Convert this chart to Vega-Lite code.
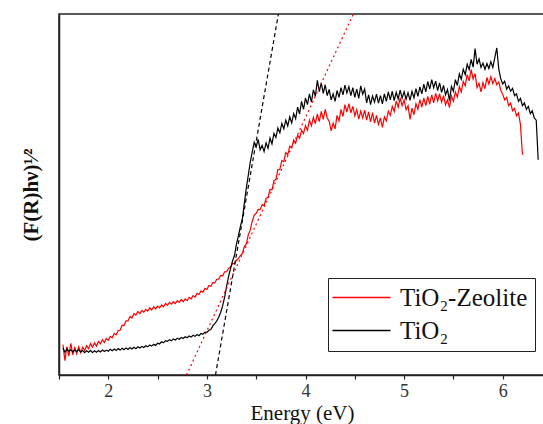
{
  "$schema": "https://vega.github.io/schema/vega-lite/v6.json",
  "width": 486,
  "height": 361,
  "autosize": {"type": "none"},
  "padding": {"left": 59, "top": 14, "right": 0, "bottom": 49},
  "background": "white",
  "config": {
    "view": {"stroke": "#222", "strokeWidth": 1.5},
    "font": "Liberation Serif, Times New Roman, serif"
  },
  "encoding": {
    "x": {
      "field": "e", "type": "quantitative",
      "scale": {"domain": [1.5, 6.429], "nice": false, "zero": false},
      "axis": {
        "title": "Energy (eV)",
        "values": [1.5, 2, 2.5, 3, 3.5, 4, 4.5, 5, 5.5, 6],
        "labelExpr": "datum.value % 1 === 0 ? format(datum.value, 'd') : ''",
        "grid": false, "domainColor": "#222", "domainWidth": 1.5,
        "tickColor": "#222", "tickSize": 4, "tickWidth": 1.2,
        "labelFont": "Liberation Serif, Times New Roman, serif", "labelFontSize": 18, "labelColor": "#333", "labelPadding": 3,
        "titleFont": "Liberation Serif, Times New Roman, serif", "titleFontSize": 21, "titleFontWeight": "normal", "titleColor": "#111", "titlePadding": 2
      }
    },
    "y": {
      "field": "y", "type": "quantitative",
      "scale": {"domain": [0, 100], "nice": false, "zero": false},
      "axis": {
        "title": "(F(R)hν)¹⁄²",
        "labels": false, "ticks": false, "grid": false,
        "domainColor": "#222", "domainWidth": 1.5,
        "titleFont": "Liberation Serif, Times New Roman, serif", "titleFontSize": 21, "titleFontWeight": "bold", "titleColor": "#111", "titlePadding": 18
      }
    }
  },
  "layer": [
    {
      "data": {"values": [
        {"e":1.54,"k":7.5,"r":8.4},{"e":1.56,"k":6.3,"r":4.0},{"e":1.58,"k":7.2,"r":7.9},{"e":1.60,"k":6.6,"r":5.2},
        {"e":1.62,"k":7.0,"r":8.8},{"e":1.64,"k":6.4,"r":5.6},{"e":1.66,"k":6.9,"r":7.6},{"e":1.68,"k":6.5,"r":5.9},
        {"e":1.70,"k":7.0,"r":7.8},{"e":1.72,"k":6.4,"r":6.2},{"e":1.74,"k":6.8,"r":7.7},{"e":1.76,"k":6.2,"r":6.8},
        {"e":1.78,"k":6.7,"r":8.1},{"e":1.80,"k":6.3,"r":7.3},{"e":1.82,"k":6.8,"r":8.7},{"e":1.84,"k":6.2,"r":7.7},
        {"e":1.86,"k":6.7,"r":8.9},{"e":1.88,"k":6.3,"r":8.0},{"e":1.90,"k":6.8,"r":9.3},{"e":1.92,"k":6.4,"r":8.6},
        {"e":1.94,"k":6.9,"r":9.8},{"e":1.96,"k":6.5,"r":9.0},{"e":1.98,"k":6.9,"r":10.1},{"e":2.00,"k":6.6,"r":9.6},
        {"e":2.02,"k":7.1,"r":10.7},{"e":2.04,"k":6.7,"r":10.3},{"e":2.06,"k":7.2,"r":11.5},{"e":2.08,"k":6.8,"r":11.1},
        {"e":2.10,"k":7.3,"r":12.3},{"e":2.12,"k":6.9,"r":12.4},{"e":2.14,"k":7.4,"r":13.8},{"e":2.16,"k":7.0,"r":13.7},
        {"e":2.18,"k":7.5,"r":15.0},{"e":2.20,"k":7.1,"r":15.0},{"e":2.22,"k":7.6,"r":16.2},{"e":2.24,"k":7.2,"r":15.8},
        {"e":2.26,"k":7.7,"r":17.0},{"e":2.28,"k":7.3,"r":16.6},{"e":2.30,"k":7.8,"r":17.6},{"e":2.32,"k":7.5,"r":17.0},
        {"e":2.34,"k":7.9,"r":17.9},{"e":2.36,"k":7.6,"r":17.4},{"e":2.38,"k":8.1,"r":18.2},{"e":2.40,"k":7.8,"r":17.7},
        {"e":2.42,"k":8.3,"r":18.6},{"e":2.44,"k":8.0,"r":18.0},{"e":2.46,"k":8.5,"r":18.9},{"e":2.48,"k":8.2,"r":18.3},
        {"e":2.50,"k":8.8,"r":19.1},{"e":2.52,"k":8.6,"r":18.6},{"e":2.54,"k":9.2,"r":19.4},{"e":2.56,"k":8.9,"r":18.9},
        {"e":2.58,"k":9.5,"r":19.8},{"e":2.60,"k":9.3,"r":19.3},{"e":2.62,"k":9.8,"r":20.1},{"e":2.64,"k":9.5,"r":19.6},
        {"e":2.66,"k":10.0,"r":20.3},{"e":2.68,"k":9.7,"r":19.8},{"e":2.70,"k":10.2,"r":20.6},{"e":2.72,"k":9.9,"r":20.1},
        {"e":2.74,"k":10.4,"r":20.9},{"e":2.76,"k":10.1,"r":20.3},{"e":2.78,"k":10.6,"r":21.1},{"e":2.80,"k":10.3,"r":20.6},
        {"e":2.82,"k":10.8,"r":21.5},{"e":2.84,"k":10.5,"r":21.1},{"e":2.86,"k":11.0,"r":22.0},{"e":2.88,"k":10.7,"r":21.6},
        {"e":2.90,"k":11.2,"r":22.6},{"e":2.92,"k":10.9,"r":22.3},{"e":2.94,"k":11.5,"r":23.3},{"e":2.96,"k":11.3,"r":22.9},
        {"e":2.98,"k":11.9,"r":24.0},{"e":3.00,"k":11.8,"r":23.7},{"e":3.02,"k":12.4,"r":24.8},{"e":3.04,"k":12.6,"r":24.6},
        {"e":3.06,"k":13.6,"r":25.6},{"e":3.08,"k":14.2,"r":25.5},{"e":3.10,"k":15.0,"r":26.5},{"e":3.12,"k":16.0,"r":26.6},
        {"e":3.14,"k":17.4,"r":27.6},{"e":3.16,"k":19.2,"r":27.5},{"e":3.18,"k":21.6,"r":28.6},{"e":3.20,"k":24.6,"r":28.6},
        {"e":3.22,"k":27.3,"r":29.6},{"e":3.24,"k":29.5,"r":29.9},{"e":3.26,"k":31.6,"r":30.9},{"e":3.28,"k":33.1,"r":30.8},
        {"e":3.30,"k":36.3,"r":31.8},{"e":3.32,"k":38.6,"r":32.3},{"e":3.34,"k":41.2,"r":33.1},{"e":3.36,"k":43.3,"r":33.7},
        {"e":3.38,"k":47.6,"r":35.6},{"e":3.40,"k":51.8,"r":36.3},{"e":3.42,"k":55.4,"r":38.9},{"e":3.44,"k":59.0,"r":40.2},
        {"e":3.46,"k":61.8,"r":42.6},{"e":3.48,"k":64.5,"r":44.3},{"e":3.50,"k":63.2,"r":44.8},{"e":3.52,"k":65.3,"r":45.9},
        {"e":3.54,"k":62.4,"r":45.8},{"e":3.56,"k":63.6,"r":47.2},{"e":3.58,"k":61.9,"r":46.9},{"e":3.60,"k":64.3,"r":48.9},
        {"e":3.62,"k":62.8,"r":49.2},{"e":3.64,"k":65.6,"r":51.4},{"e":3.66,"k":64.0,"r":51.3},{"e":3.68,"k":66.9,"r":53.8},
        {"e":3.70,"k":65.8,"r":54.2},{"e":3.72,"k":68.4,"r":56.9},{"e":3.74,"k":67.1,"r":57.0},{"e":3.76,"k":69.7,"r":59.4},
        {"e":3.78,"k":68.2,"r":59.1},{"e":3.80,"k":70.6,"r":61.6},{"e":3.82,"k":69.0,"r":61.0},{"e":3.84,"k":71.5,"r":63.4},
        {"e":3.86,"k":69.8,"r":62.9},{"e":3.88,"k":72.4,"r":65.1},{"e":3.90,"k":71.0,"r":64.2},{"e":3.92,"k":74.2,"r":66.4},
        {"e":3.94,"k":72.3,"r":65.6},{"e":3.96,"k":75.8,"r":67.8},{"e":3.98,"k":73.6,"r":66.9},{"e":4.00,"k":76.7,"r":69.1},
        {"e":4.02,"k":74.9,"r":67.8},{"e":4.04,"k":77.9,"r":70.6},{"e":4.06,"k":75.6,"r":69.0},{"e":4.08,"k":79.0,"r":71.4},
        {"e":4.10,"k":77.2,"r":69.6},{"e":4.12,"k":81.6,"r":72.3},{"e":4.14,"k":78.5,"r":70.2},{"e":4.16,"k":80.9,"r":73.0},
        {"e":4.18,"k":78.0,"r":70.8},{"e":4.20,"k":80.4,"r":73.6},{"e":4.22,"k":77.4,"r":71.2},{"e":4.24,"k":79.1,"r":70.3},
        {"e":4.26,"k":76.2,"r":67.6},{"e":4.28,"k":77.9,"r":69.8},{"e":4.30,"k":75.8,"r":68.2},{"e":4.32,"k":78.8,"r":71.9},
        {"e":4.34,"k":76.9,"r":70.4},{"e":4.36,"k":79.6,"r":73.6},{"e":4.38,"k":77.6,"r":71.6},{"e":4.40,"k":80.3,"r":74.9},
        {"e":4.42,"k":78.1,"r":72.8},{"e":4.44,"k":79.9,"r":75.2},{"e":4.46,"k":77.4,"r":72.6},{"e":4.48,"k":79.6,"r":74.4},
        {"e":4.50,"k":76.9,"r":71.8},{"e":4.52,"k":79.2,"r":73.5},{"e":4.54,"k":76.6,"r":70.9},{"e":4.56,"k":80.1,"r":73.1},
        {"e":4.58,"k":77.8,"r":71.2},{"e":4.60,"k":79.2,"r":73.4},{"e":4.62,"k":75.4,"r":70.6},{"e":4.64,"k":77.6,"r":72.9},
        {"e":4.66,"k":74.9,"r":70.1},{"e":4.68,"k":77.3,"r":72.7},{"e":4.70,"k":75.6,"r":69.8},{"e":4.72,"k":77.8,"r":71.9},
        {"e":4.74,"k":75.3,"r":69.4},{"e":4.76,"k":77.4,"r":71.2},{"e":4.78,"k":75.1,"r":68.6},{"e":4.80,"k":77.9,"r":71.5},
        {"e":4.82,"k":75.8,"r":70.4},{"e":4.84,"k":78.4,"r":73.1},{"e":4.86,"k":76.2,"r":71.9},{"e":4.88,"k":78.6,"r":74.4},
        {"e":4.90,"k":76.0,"r":73.0},{"e":4.92,"k":78.3,"r":75.9},{"e":4.94,"k":76.5,"r":74.2},{"e":4.96,"k":78.9,"r":76.8},
        {"e":4.98,"k":76.7,"r":74.6},{"e":5.00,"k":78.5,"r":76.2},{"e":5.02,"k":76.4,"r":73.5},{"e":5.04,"k":78.2,"r":74.6},
        {"e":5.06,"k":76.1,"r":70.8},{"e":5.08,"k":78.6,"r":73.9},{"e":5.10,"k":76.8,"r":72.1},{"e":5.12,"k":79.3,"r":75.1},
        {"e":5.14,"k":77.2,"r":73.6},{"e":5.16,"k":79.8,"r":76.3},{"e":5.18,"k":77.9,"r":74.2},{"e":5.20,"k":80.6,"r":76.7},
        {"e":5.22,"k":78.4,"r":74.6},{"e":5.24,"k":81.3,"r":77.2},{"e":5.26,"k":79.2,"r":75.0},{"e":5.28,"k":81.8,"r":77.6},
        {"e":5.30,"k":79.6,"r":75.4},{"e":5.32,"k":81.4,"r":78.0},{"e":5.34,"k":78.8,"r":75.9},{"e":5.36,"k":80.9,"r":77.9},
        {"e":5.38,"k":78.3,"r":75.6},{"e":5.40,"k":80.2,"r":77.4},{"e":5.42,"k":77.6,"r":74.8},{"e":5.44,"k":79.1,"r":76.2},
        {"e":5.46,"k":76.0,"r":74.1},{"e":5.48,"k":79.9,"r":77.3},{"e":5.50,"k":78.6,"r":75.8},{"e":5.52,"k":81.8,"r":78.4},
        {"e":5.54,"k":80.2,"r":77.0},{"e":5.56,"k":83.4,"r":79.9},{"e":5.58,"k":81.9,"r":78.4},{"e":5.60,"k":84.7,"r":81.3},
        {"e":5.62,"k":83.2,"r":80.1},{"e":5.64,"k":86.1,"r":83.2},{"e":5.66,"k":84.6,"r":81.5},{"e":5.68,"k":87.4,"r":84.6},
        {"e":5.70,"k":85.3,"r":82.0},{"e":5.72,"k":90.4,"r":83.5},{"e":5.74,"k":86.1,"r":79.6},{"e":5.76,"k":87.6,"r":80.8},
        {"e":5.78,"k":85.2,"r":78.4},{"e":5.80,"k":86.4,"r":81.0},{"e":5.82,"k":84.7,"r":79.3},{"e":5.84,"k":86.3,"r":82.4},
        {"e":5.86,"k":84.9,"r":80.6},{"e":5.88,"k":86.8,"r":82.6},{"e":5.90,"k":85.2,"r":80.7},{"e":5.92,"k":87.9,"r":82.1},
        {"e":5.94,"k":90.6,"r":80.4},{"e":5.96,"k":84.8,"r":81.2},{"e":5.98,"k":82.1,"r":78.9},{"e":6.00,"k":80.6,"r":77.8},
        {"e":6.02,"k":81.4,"r":76.2},{"e":6.04,"k":79.2,"r":76.9},{"e":6.06,"k":80.1,"r":74.6},{"e":6.08,"k":78.6,"r":75.3},
        {"e":6.10,"k":79.4,"r":73.2},{"e":6.12,"k":77.4,"r":73.8},{"e":6.14,"k":77.9,"r":71.8},{"e":6.16,"k":75.8,"r":72.6},
        {"e":6.18,"k":76.6,"r":69.4},{"e":6.20,"k":74.6,"r":61.0},{"e":6.22,"k":75.4},{"e":6.24,"k":73.6},
        {"e":6.26,"k":74.4},{"e":6.28,"k":72.4},{"e":6.30,"k":73.2},{"e":6.32,"k":71.2},
        {"e":6.34,"k":70.6},{"e":6.36,"k":59.6}
      ]},
      "transform": [{"fold": ["r", "k"], "as": ["s", "y"]}],
      "mark": {"type": "line", "strokeWidth": 1.2, "clip": true},
      "encoding": {
        "color": {
          "field": "s", "type": "nominal",
          "scale": {"domain": ["r", "k"], "range": ["#ff0000", "#000000"]},
          "legend": {
            "title": null,
            "orient": "none", "legendX": 269, "legendY": 264,
            "labelExpr": "datum.label === 'r' ? 'TiO₂-Zeolite' : 'TiO₂'",
            "labelFont": "Liberation Serif, Times New Roman, serif", "labelFontSize": 25, "labelColor": "#111",
            "symbolType": "M-4,0H4", "symbolSize": 210.25, "symbolStrokeWidth": 1.5,
            "symbolOffset": 14, "labelOffset": 26,
            "strokeColor": "#222", "padding": 7, "rowPadding": 7,
            "fillColor": "white"
          }
        }
      }
    },
    {
      "data": {"values": [{"e": 3.087, "y": 0}, {"e": 3.725, "y": 100}]},
      "mark": {"type": "line", "color": "#000000", "strokeWidth": 1.2, "strokeDash": [4, 3], "clip": true},
      "encoding": {}
    },
    {
      "data": {"values": [{"e": 2.793, "y": 0}, {"e": 4.485, "y": 100}]},
      "mark": {"type": "line", "color": "#ff0000", "strokeWidth": 1.2, "strokeDash": [2, 3], "clip": true},
      "encoding": {}
    }
  ]
}
